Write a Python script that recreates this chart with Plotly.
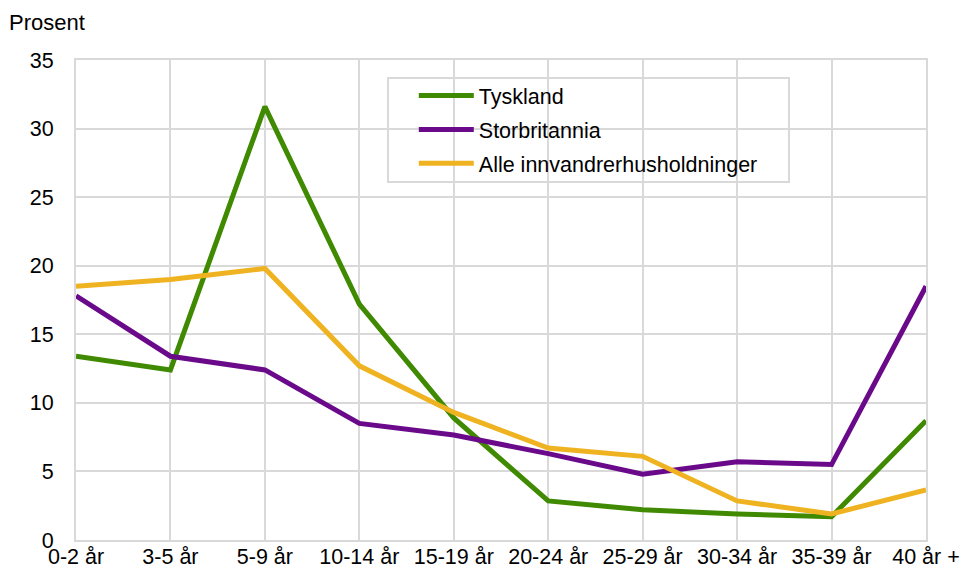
import plotly.graph_objects as go

categories = ["0-2 år", "3-5 år", "5-9 år", "10-14 år", "15-19 år",
              "20-24 år", "25-29 år", "30-34 år", "35-39 år", "40 år +"]
tyskland = [13.4, 12.4, 31.6, 17.2, 8.9, 2.85, 2.2, 1.9, 1.7, 8.7]
storbritannia = [17.8, 13.4, 12.4, 8.5, 7.65, 6.3, 4.8, 5.7, 5.5, 18.5]
alle = [18.5, 19.0, 19.8, 12.7, 9.3, 6.7, 6.1, 2.85, 1.9, 3.65]
y_ticks = [0, 5, 10, 15, 20, 25, 30, 35]

series = [
    ("Tyskland", tyskland, "#3f8a00"),
    ("Storbritannia", storbritannia, "#6a0a8a"),
    ("Alle innvandrerhusholdninger", alle, "#efb321"),
]

fig = go.Figure()
for i, (name, vals, col) in enumerate(series):
    fig.add_trace(go.Scatter(x=categories, y=vals, name=name, mode="lines",
                             legendgroup=f"g{i}",
                             line=dict(color=col, width=5)))

font = "Liberation Sans, Arial, sans-serif"
fs = 21.5
fig.update_layout(
    width=960, height=567,
    margin=dict(l=76, r=34, t=60, b=27),
    paper_bgcolor="white", plot_bgcolor="white",
    font=dict(family=font, size=fs, color="black"),
    xaxis=dict(type="category", range=[0, 9], showgrid=True, gridcolor="#d9d9d9",
               gridwidth=2, showline=True, linecolor="#d9d9d9", linewidth=2,
               mirror=True, ticks="", ticklabelstandoff=-4, zeroline=False,
               automargin=False),
    yaxis=dict(range=[0, 35], tickvals=y_ticks, showgrid=True, gridcolor="#d9d9d9",
               gridwidth=2, showline=True, linecolor="#d9d9d9", linewidth=2,
               mirror=True, ticks="", ticklabelstandoff=16, zeroline=False,
               automargin=False),
    legend=dict(x=0.3974, y=0.9688, xanchor="left", yanchor="top",
                borderwidth=0, bgcolor="rgba(0,0,0,0)", itemwidth=55,
                tracegroupgap=3,
                font=dict(family=font, size=fs)),
    shapes=[dict(type="rect", xref="paper", yref="paper",
                 x0=0.3671, x1=0.8388, y0=0.7458, y1=0.9625,
                 line=dict(color="#d9d9d9", width=2), fillcolor="white",
                 layer="below")],
    annotations=[dict(text="Prosent", xref="paper", yref="paper", x=-0.0812, y=1.079,
                      xanchor="left", yanchor="middle", showarrow=False,
                      font=dict(family=font, size=22))],
)

# remove the browser's default 8px body margin so the figure fills the window
fig.write_html("out.html", config={"displayModeBar": False},
               post_script="document.body.style.margin='0';")
